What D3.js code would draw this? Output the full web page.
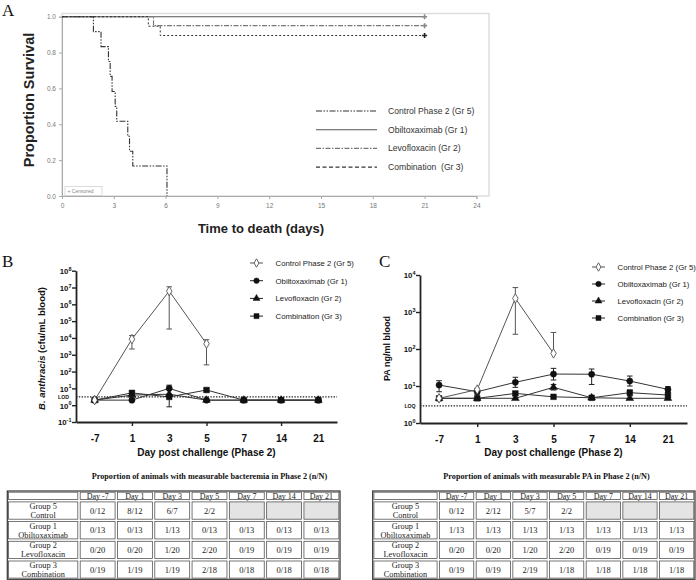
<!DOCTYPE html>
<html><head><meta charset="utf-8">
<script src="https://cdn.jsdelivr.net/npm/d3@7"></script>
<style>body{margin:0;background:#fff}svg{display:block}</style>
</head><body>
<svg id="c" width="696" height="580"></svg>
<script>
// ---------------- Panel A : Kaplan-Meier ----------------
const kmLegend = ["Control Phase 2 (Gr 5)","Obiltoxaximab (Gr 1)","Levofloxacin (Gr 2)","Combination  (Gr 3)"];
const kmControlDays = [0,1.82,2.26,2.69,2.79,2.90,3.08,3.17,3.81,3.91,4.10,6.08];
const kmControlSurv = [1,0.917,0.833,0.75,0.667,0.583,0.5,0.417,0.333,0.25,0.167,0];
const kmObiltoDays = [0,21];
const kmObiltoSurv = [1,1];
const kmLevoDays = [0,5.3,21];
const kmLevoSurv = [1,0.95,0.95];
const kmComboDays = [0,5.0,5.69,21];
const kmComboSurv = [1,0.947,0.895,0.895];
const kmXTicks = [0,3,6,9,12,15,18,21,24];
const kmYTicks = [0,0.2,0.4,0.6,0.8,1.0];

// ---------------- Panels B & C ----------------
const days = ["-7","1","3","5","7","14","21"];
const seriesNames = ["Control Phase 2 (Gr 5)","Obiltoxaximab (Gr 1)","Levofloxacin (Gr 2)","Combination (Gr 3)"];
// B: bacteremia (cfu/mL)
const bControl   = [2, 8500, 6.1e6, 4500, null, null, null];
const bControlHi = [null, 14000, 1.1e7, 7800, null, null, null];
const bControlLo = [null, 2200, 34000, 250, null, null, null];
const bObilto    = [2, 2, 10, 2, 2, 2, 2];
const bObiltoHi  = [null, null, 15.5, null, null, null, null];
const bObiltoLo  = [null, null, 0.8, null, null, null, null];
const bLevo      = [2, 4, 4.5, 2, 2, 2, 2];
const bLevoHi    = [null, null, null, null, null, null, null];
const bLevoLo    = [null, null, null, null, null, null, null];
const bCombo     = [2, 5.4, 3.1, 8, 2, 2, 2];
const bComboHi   = [null, 7.1, null, 10, null, null, null];
const bComboLo   = [null, 3.4, null, 6.3, null, null, null];
const bLOD = 3.1;
const bYTicks = [0.1,1,10,100,1e3,1e4,1e5,1e6,1e7,1e8];
// C: PA (ng/ml)
const cControl   = [4.65, 8, 2340, 76, null, null, null];
const cControlHi = [null, 8.7, 4570, 280, null, null, null];
const cControlLo = [null, null, 250, null, null, null, null];
const cObilto    = [10.6, 7.0, 12.6, 21, 20.8, 13.6, 8.1];
const cObiltoHi  = [13.9, 8.3, 17.2, 30, 28.8, 18.6, 9.6];
const cObiltoLo  = [7, 6, 9.2, 14.5, 11, 10, 7];
const cLevo      = [4.65, 4.65, 4.65, 9.2, 4.8, 4.65, 4.65];
const cLevoHi    = [null, null, null, 11, null, null, null];
const cLevoLo    = [null, null, null, 7.8, null, null, null];
const cCombo     = [4.65, 4.65, 6.3, 5.1, 4.8, 6.6, 5.7];
const cComboHi   = [null, null, 7, null, null, 7.8, 6.6];
const cComboLo   = [null, null, 5.6, null, null, 5.4, 5];
const cLOQ = 2.9;
const cYTicks = [1,10,100,1e3,1e4];
const xTickMarks = ["1","5","14"];

// ---------------- Tables ----------------
const tableCols = ["Day -7","Day 1","Day 3","Day 5","Day 7","Day 14","Day 21"];
const tableRowLabels = [["Group 5","Control"],["Group 1","Obiltoxaximab"],["Group 2","Levofloxacin"],["Group 3","Combination"]];
const bTableTitle = "Proportion of animals with measurable bacteremia in Phase 2 (n/N)";
const bTable = [
  ["0/12","8/12","6/7","2/2",null,null,null],
  ["0/13","0/13","1/13","0/13","0/13","0/13","0/13"],
  ["0/20","0/20","1/20","2/20","0/19","0/19","0/19"],
  ["0/19","1/19","1/19","2/18","0/18","0/18","0/18"]];
const cTableTitle = "Proportion of animals with measurable PA in Phase 2 (n/N)";
const cTable = [
  ["0/12","2/12","5/7","2/2",null,null,null],
  ["1/13","1/13","1/13","1/13","1/13","1/13","1/13"],
  ["0/20","0/20","1/20","2/20","0/19","0/19","0/19"],
  ["0/19","0/19","2/19","1/18","1/18","1/18","1/18"]];

const SANS = "'Liberation Sans', Arial, Helvetica, sans-serif";
const SERIF = "'Liberation Serif', 'Times New Roman', serif";
const svg = d3.select("#c");

// panel letters
[["A",2,16],["B",2,267],["C",379,267]].forEach(([t,x,y])=>{
  svg.append("text").attr("x",x).attr("y",y).text(t)
    .attr("font-family",SERIF).attr("font-size",17).attr("fill","#111");
});

// ================= Panel A =================
(function(){
  const x = d3.scaleLinear().domain([0,24]).range([62,476.4]);
  const y = d3.scaleLinear().domain([0,1]).range([196,16.7]);
  const g = svg.append("g");
  g.append("rect").attr("x",62).attr("y",13.5).attr("width",427).attr("height",182.5)
    .attr("fill","none").attr("stroke","#dcdcdc").attr("stroke-width",1.4);
  const xa = g.append("g").attr("transform","translate(0,196)")
    .call(d3.axisBottom(x).tickValues(kmXTicks).tickSize(3).tickPadding(4).tickFormat(d3.format("d")));
  const ya = g.append("g").attr("transform","translate(62,0)")
    .call(d3.axisLeft(y).tickValues(kmYTicks).tickSize(3).tickPadding(3).tickFormat(d3.format(".1f")));
  [xa,ya].forEach(a=>{
    a.select(".domain").attr("stroke","#aaa");
    a.selectAll(".tick line").attr("stroke","#aaa");
    a.selectAll("text").attr("font-family",SANS).attr("font-size",6.5).attr("fill","#777");
  });
  const styles = [
    {d:kmControlDays,s:kmControlSurv,dash:"6,1.5,1.5,1.5,1.5,1.5",c:"#333",w:1.1},
    {d:kmObiltoDays,s:kmObiltoSurv,dash:null,c:"#555",w:1.1},
    {d:kmLevoDays,s:kmLevoSurv,dash:"5,1.5,1.5,1.5",c:"#777",w:1.1},
    {d:kmComboDays,s:kmComboSurv,dash:"2,2",c:"#333",w:1}
  ];
  const line = d3.line().curve(d3.curveStepAfter).x(d=>x(d[0])).y(d=>y(d[1]));
  // draw in reverse so control dashes on top
  [1,2,3,0].forEach(i=>{
    const st = styles[i];
    g.append("path").datum(st.d.map((v,j)=>[v,st.s[j]]))
      .attr("d",line).attr("fill","none").attr("stroke",st.c)
      .attr("stroke-width",st.w).attr("stroke-dasharray",st.dash);
  });
  // censor marks at end
  [[kmObiltoDays,kmObiltoSurv,"#888"],[kmLevoDays,kmLevoSurv,"#888"],[kmComboDays,kmComboSurv,"#222"]].forEach(([d,s,c])=>{
    const cx = x(d[d.length-1]), cy = y(s[s.length-1]);
    g.append("path").attr("d",`M${cx-2.5},${cy}H${cx+2.5}M${cx},${cy-2.5}V${cy+2.5}`)
      .attr("stroke",c).attr("stroke-width",1.6);
  });
  // legend
  kmLegend.forEach((name,i)=>{
    const ly = 111 + i*18.7;
    const st = styles[i];
    g.append("line").attr("x1",316).attr("x2",377).attr("y1",ly).attr("y2",ly)
      .attr("stroke",st.c).attr("stroke-width",1.1).attr("stroke-dasharray", i===3?"4,2.5":st.dash);
    g.append("text").attr("x",388).attr("y",ly+3).text(name)
      .attr("font-family",SANS).attr("font-size",8.6).attr("fill","#333").style("white-space","pre");
  });
  // censored box
  g.append("rect").attr("x",65).attr("y",186.5).attr("width",37).attr("height",9)
    .attr("fill","#fff").attr("stroke","#ccc").attr("stroke-width",0.7);
  g.append("text").attr("x",67.5).attr("y",193.3).text("+ Censored")
    .attr("font-family",SANS).attr("font-size",5).attr("fill","#888");
  // titles
  g.append("text").attr("transform","translate(29,100) rotate(-90)").attr("text-anchor","middle")
    .attr("dy","0.35em").text("Proportion Survival")
    .attr("font-family",SANS).attr("font-weight","bold").attr("font-size",14.5).attr("fill","#222");
  g.append("text").attr("x",261).attr("y",232.5).attr("text-anchor","middle").text("Time to death (days)")
    .attr("font-family",SANS).attr("font-weight","bold").attr("font-size",13).attr("fill","#222");
})();

// ================= Panels B & C =================
function drawPanel(opt){
  const g = svg.append("g");
  const x = d3.scalePoint().domain(days).range([opt.x0,opt.x1]).padding(0.5);
  const y = d3.scaleLog().domain(opt.ydom).range([opt.yb,opt.yt]);
  // axes
  const xa = g.append("g").attr("transform",`translate(0,${opt.yb})`)
    .call(d3.axisBottom(x).tickSize(4).tickSizeOuter(0).tickPadding(9));
  xa.selectAll(".tick line").attr("opacity",d=>xTickMarks.includes(d)?1:0);
  const ya = g.append("g").attr("transform",`translate(${opt.x0},0)`)
    .call(d3.axisLeft(y).tickValues(opt.yticks).tickSize(4).tickSizeOuter(0).tickFormat(""));
  [xa,ya].forEach(a=>{
    a.select(".domain").attr("stroke","#222").attr("stroke-width",1.8);
    a.selectAll(".tick line").attr("stroke","#222").attr("stroke-width",1.4);
  });
  xa.selectAll("text").attr("font-family",SANS).attr("font-weight","bold").attr("font-size",10).attr("fill","#111");
  ya.selectAll(".tick").each(function(d){
    const t = d3.select(this).append("text").attr("x",-4.5).attr("y",2.8)
      .attr("text-anchor","end").attr("font-family",SANS).attr("font-weight","bold")
      .attr("font-size",7.8).attr("fill","#111");
    t.append("tspan").text("10");
    t.append("tspan").attr("dy",-3.2).attr("font-size",5.5).text(String(Math.round(Math.log10(d))));
  });
  // limit line
  g.append("line").attr("x1",opt.x0).attr("x2",opt.x1).attr("y1",y(opt.limit)).attr("y2",y(opt.limit))
    .attr("stroke","#222").attr("stroke-width",1.3).attr("stroke-dasharray","1.4,1.4");
  g.append("text").attr("x",opt.limX).attr("y",y(opt.limit)+1.8).attr("text-anchor","middle")
    .text(opt.limLabel).attr("font-family",SANS).attr("font-weight","bold").attr("font-size",5.2).attr("fill","#111");
  // titles
  g.append("text").attr("x",(opt.x0+opt.x1)/2).attr("y",456).attr("text-anchor","middle")
    .text("Day post challenge (Phase 2)").attr("font-family",SANS).attr("font-weight","bold")
    .attr("font-size",10).attr("fill","#111");
  const yt = g.append("text").attr("transform",`translate(${opt.ylabX},348.5) rotate(-90)`)
    .attr("text-anchor","middle").attr("dy","0.35em").attr("font-family",SANS)
    .attr("font-weight","bold").attr("font-size",opt.ylabSize).attr("fill","#111");
  opt.ylab.forEach(([s,it])=>yt.append("tspan").text(s).attr("font-style",it?"italic":"normal"));
  // series
  const syms = [d3.symbolDiamond,d3.symbolCircle,d3.symbolTriangle,d3.symbolSquare];
  const sizes = [26,30,26,32];
  const lineGen = d3.line().defined(d=>d.v!=null).x(d=>x(d.day)).y(d=>y(d.v));
  const order = [1,2,3,0];
  order.forEach(i=>{
    const s = opt.series[i];
    const pts = days.map((dd,j)=>({day:dd,v:s.v[j],hi:s.hi[j],lo:s.lo[j]}));
    g.append("path").datum(pts).attr("d",lineGen).attr("fill","none")
      .attr("stroke",i===0?"#555":"#333").attr("stroke-width",1);
  });
  order.forEach(i=>{
    const s = opt.series[i];
    const col = i===0?"#555":"#222";
    days.forEach((dd,j)=>{
      if(s.v[j]==null) return;
      const cx = x(dd);
      const hi = s.hi[j], lo = s.lo[j];
      if(hi!=null){
        g.append("line").attr("x1",cx).attr("x2",cx).attr("y1",y(s.v[j])).attr("y2",y(hi)).attr("stroke",col).attr("stroke-width",1);
        g.append("line").attr("x1",cx-2.8).attr("x2",cx+2.8).attr("y1",y(hi)).attr("y2",y(hi)).attr("stroke",col).attr("stroke-width",1);
      }
      if(lo!=null){
        g.append("line").attr("x1",cx).attr("x2",cx).attr("y1",y(s.v[j])).attr("y2",y(lo)).attr("stroke",col).attr("stroke-width",1);
        g.append("line").attr("x1",cx-2.8).attr("x2",cx+2.8).attr("y1",y(lo)).attr("y2",y(lo)).attr("stroke",col).attr("stroke-width",1);
      }
    });
    days.forEach((dd,j)=>{
      if(s.v[j]==null) return;
      g.append("path").attr("d",d3.symbol(syms[i],sizes[i])())
        .attr("transform",`translate(${x(dd)},${y(s.v[j])})`)
        .attr("fill",i===0?"#fff":"#111").attr("stroke",i===0?"#555":"#111").attr("stroke-width",i===0?0.9:0.5);
    });
  });
  // legend
  seriesNames.forEach((name,i)=>{
    const ly = opt.legY + i*opt.legDy;
    g.append("line").attr("x1",opt.legX).attr("x2",opt.legX+13).attr("y1",ly).attr("y2",ly)
      .attr("stroke",i===0?"#555":"#222").attr("stroke-width",1);
    g.append("path").attr("d",d3.symbol(syms[i],sizes[i]*0.8)())
      .attr("transform",`translate(${opt.legX+6.5},${ly})`)
      .attr("fill",i===0?"#fff":"#111").attr("stroke",i===0?"#555":"#111").attr("stroke-width",i===0?0.9:0.5);
    g.append("text").attr("x",opt.legX+25.5).attr("y",ly+2.8).text(name)
      .attr("font-family",SANS).attr("font-size",7.8).attr("fill","#222");
  });
}

drawPanel({x0:76,x1:337,yb:422,yt:270.7,ydom:[0.1,1e8],yticks:bYTicks,
  limit:bLOD,limLabel:"LOD",limX:63.5,ylabX:42,ylabSize:9.5,
  ylab:[["B. anthracis",true],[" (cfu/mL blood)",false]],
  legX:250,legY:263,legDy:17.7,
  series:[{v:bControl,hi:bControlHi,lo:bControlLo},{v:bObilto,hi:bObiltoHi,lo:bObiltoLo},
          {v:bLevo,hi:bLevoHi,lo:bLevoLo},{v:bCombo,hi:bComboHi,lo:bComboLo}]});
drawPanel({x0:420,x1:687,yb:423,yt:275,ydom:[1,1e4],yticks:cYTicks,
  limit:cLOQ,limLabel:"LOQ",limX:410,ylabX:386.7,ylabSize:9,
  ylab:[["PA ng/ml blood",false]],
  legX:592,legY:267,legDy:17,
  series:[{v:cControl,hi:cControlHi,lo:cControlLo},{v:cObilto,hi:cObiltoHi,lo:cObiltoLo},
          {v:cLevo,hi:cLevoHi,lo:cLevoLo},{v:cCombo,hi:cComboHi,lo:cComboLo}]});

// ================= Tables =================
function drawTable(opt){
  const g = svg.append("g");
  g.append("text").attr("x",opt.titleX).attr("y",478.5).text(opt.title)
    .attr("font-family",SERIF).attr("font-weight","bold").attr("font-size",8.2).attr("fill","#111");
  const rowsY = [491,500.7,520.4,540.1,559.8,579.3];
  const colX = [opt.x0, opt.x0+opt.w0];
  for(let k=1;k<=7;k++) colX.push(opt.x0+opt.w0+k*opt.w);
  g.append("rect").attr("x",colX[0]).attr("y",rowsY[0]).attr("width",colX[8]-colX[0]).attr("height",rowsY[5]-rowsY[0])
    .attr("fill","#fff").attr("stroke","#333").attr("stroke-width",1.2);
  for(let r=0;r<5;r++){
    for(let c=0;c<8;c++){
      const x = colX[c]+1.2, yy = rowsY[r]+1.2, w = colX[c+1]-colX[c]-2.4, h = rowsY[r+1]-rowsY[r]-2.4;
      const val = (r>0 && c>0) ? opt.data[r-1][c-1] : "x";
      g.append("rect").attr("x",x).attr("y",yy).attr("width",w).attr("height",h)
        .attr("fill",val==null?"#e4e4e4":"#fff").attr("stroke","#555").attr("stroke-width",0.8);
      const cx = (colX[c]+colX[c+1])/2, cy = (rowsY[r]+rowsY[r+1])/2;
      if(r===0 && c>0){
        g.append("text").attr("x",cx).attr("y",cy+2.8).attr("text-anchor","middle").text(tableCols[c-1])
          .attr("font-family",SERIF).attr("font-size",8).attr("fill","#222");
      } else if(r>0 && c===0){
        tableRowLabels[r-1].forEach((t,li)=>{
          g.append("text").attr("x",cx).attr("y",cy-1.5+li*9).attr("text-anchor","middle").text(t)
            .attr("font-family",SERIF).attr("font-size",8.3).attr("fill","#222");
        });
      } else if(r>0 && c>0 && val!=null){
        g.append("text").attr("x",cx).attr("y",cy+3).attr("text-anchor","middle").text(val)
          .attr("font-family",SERIF).attr("font-size",8.5).attr("fill","#222");
      }
    }
  }
}
drawTable({x0:7.3,w0:71.7,w:37.29,data:bTable,title:bTableTitle,titleX:91.7});
drawTable({x0:372.7,w0:65.6,w:36.67,data:cTable,title:cTableTitle,titleX:443.3});
</script>
</body></html>
